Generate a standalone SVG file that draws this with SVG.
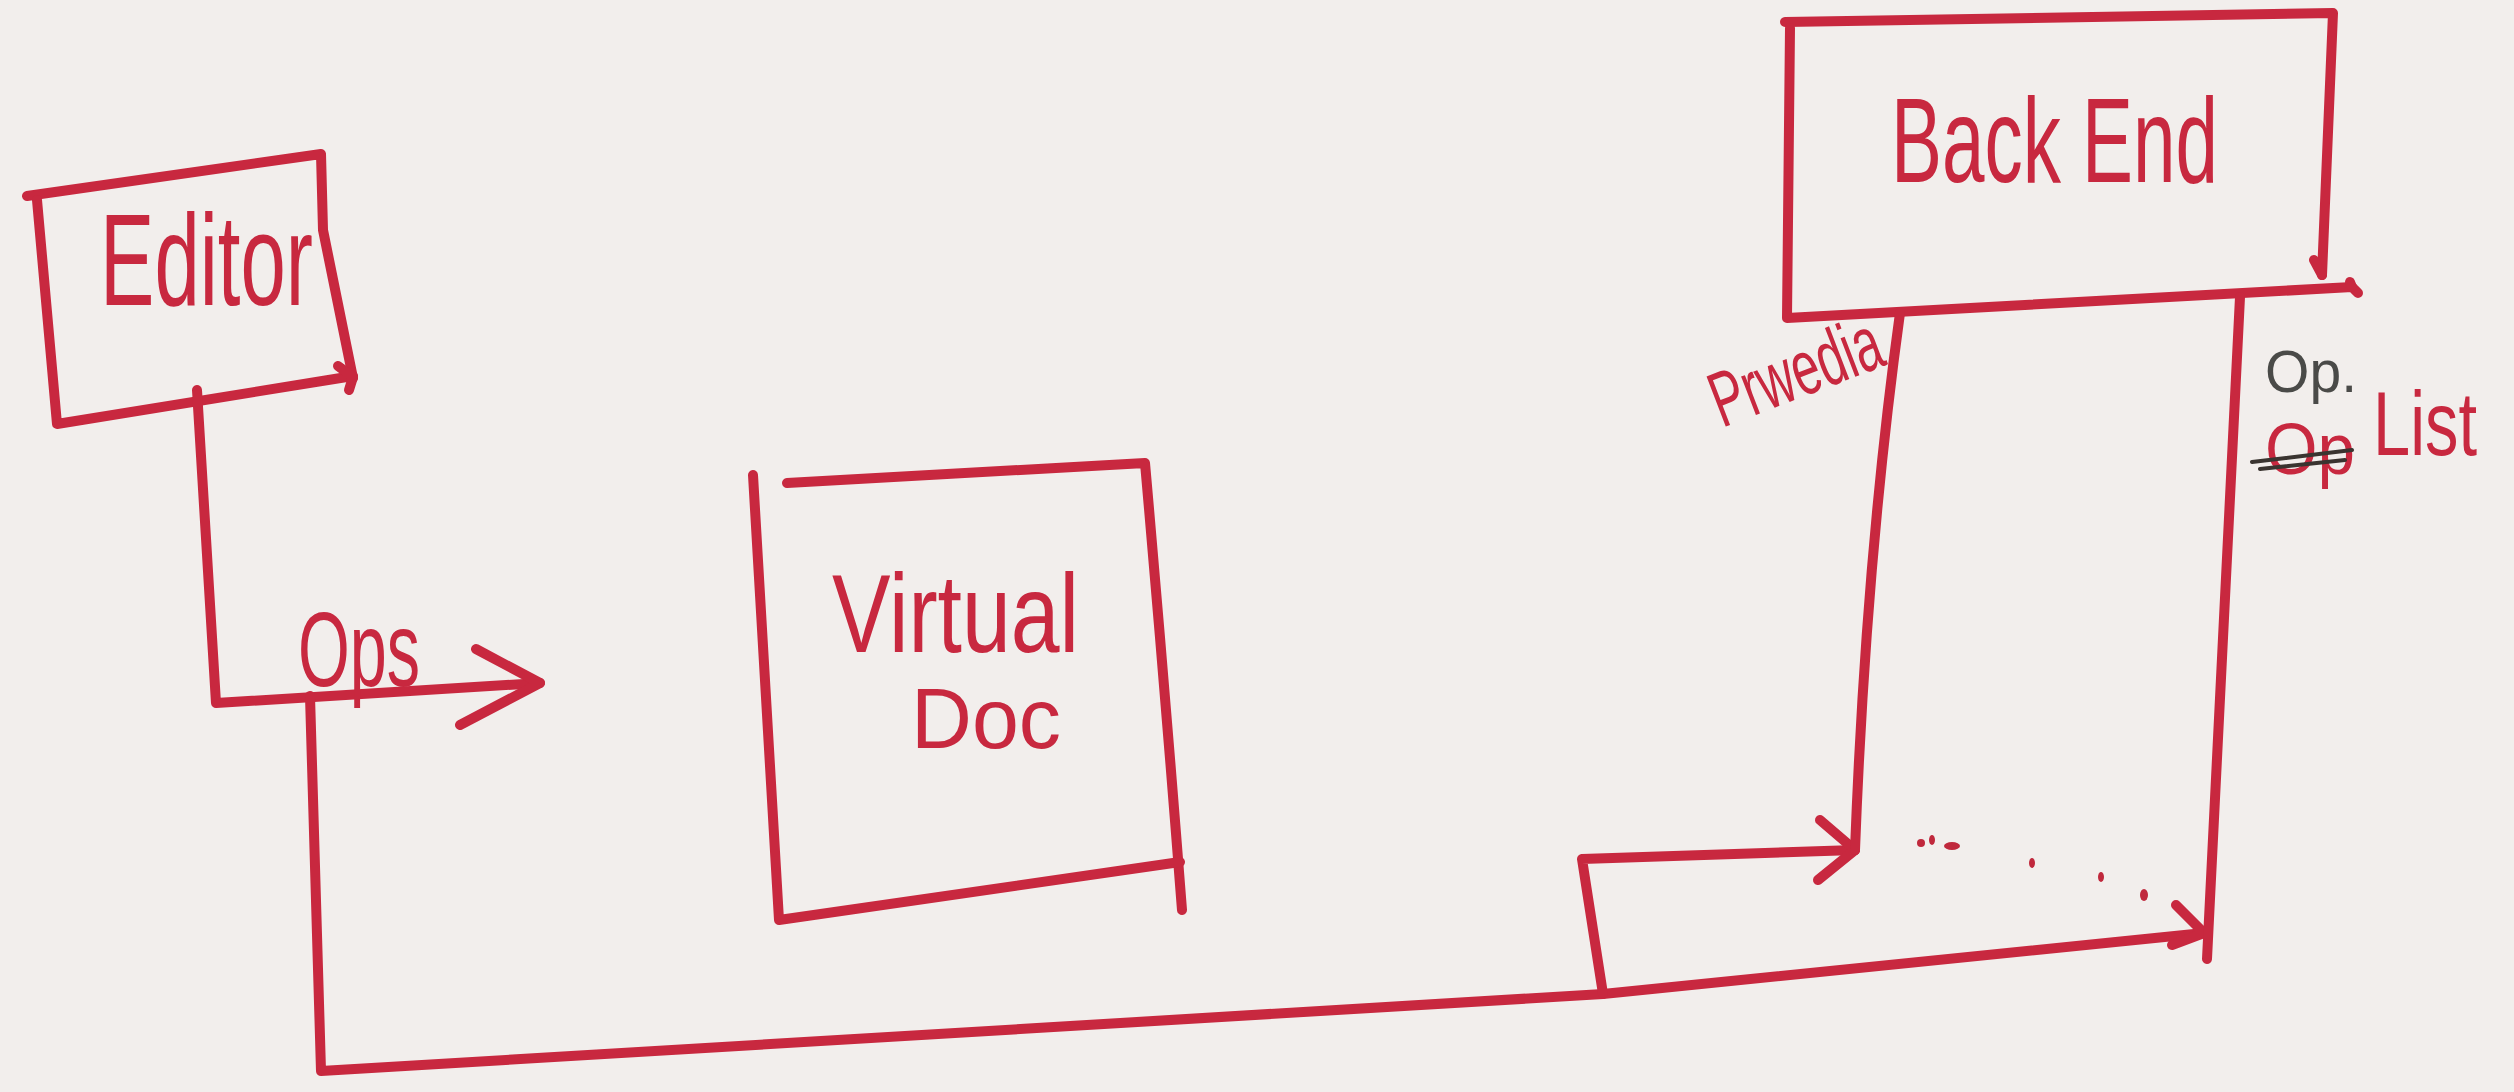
<svg xmlns="http://www.w3.org/2000/svg" width="2514" height="1092" viewBox="0 0 2514 1092">
  <style>
    .ink { fill: none; stroke: #c8283f; stroke-width: 10; stroke-linecap: round; stroke-linejoin: round; }
    .lbl { fill: #c8283f; font-family: "Liberation Sans", "DejaVu Sans", sans-serif; }
    .gray { fill: #4a4a48; font-family: "Liberation Sans", "DejaVu Sans", sans-serif; }
    .dot { fill: #c0283c; }
  </style>
  <rect x="0" y="0" width="2514" height="1092" fill="#f2eeec"/>

  <g id="editor">
    <path class="ink" d="M27,196 L321,154 L323,230 Q338,305 353,378"/>
    <path class="ink" d="M37,200 L57,424 L353,376"/>
    <path class="ink" d="M338,366 L353,377 L349,390"/>
    <text class="lbl" x="100" y="305" font-size="130" textLength="213" lengthAdjust="spacingAndGlyphs">Editor</text>
  </g>

  <g id="virtual-doc">
    <path class="ink" d="M787,483 L1145,463 Q1165,690 1182,910"/>
    <path class="ink" d="M753,475 L779,920 L1180,862"/>
    <text class="lbl" x="832" y="652" font-size="112" textLength="247" lengthAdjust="spacingAndGlyphs">Virtual</text>
    <text class="lbl" x="911" y="748" font-size="86" textLength="150" lengthAdjust="spacingAndGlyphs">Doc</text>
  </g>

  <g id="back-end">
    <path class="ink" d="M1785,22 L2333,13 L2322,275"/>
    <path class="ink" d="M2314,260 L2322,275"/>
    <path class="ink" d="M1790,28 L1787,318 L2352,287 L2358,293"/>
    <path class="ink" d="M2350,282 L2352,287"/>
    <text class="lbl" x="1891" y="182" font-size="120" textLength="327" lengthAdjust="spacingAndGlyphs">Back End</text>
  </g>

  <g id="connectors">
    <!-- Editor -> Ops arrow -->
    <path class="ink" d="M197,390 L216,703 L540,683"/>
    <path class="ink" d="M476,649 L540,683 L460,725"/>
    <text class="lbl" x="298" y="686" font-size="105" textLength="122" lengthAdjust="spacingAndGlyphs">Ops</text>

    <!-- long route to Back End right stem -->
    <path class="ink" d="M310,696 L321,1071 L1603,994 L2204,933"/>
    <path class="ink" d="M2176,905 L2204,933 L2172,945"/>

    <!-- branch to Back End left stem -->
    <path class="ink" d="M1603,994 L1582,859 L1855,850"/>
    <path class="ink" d="M1820,820 L1855,850 L1818,880"/>

    <!-- Back End left stem -->
    <path class="ink" d="M1900,313 Q1866,560 1855,850"/>
    <text class="lbl" x="1722" y="428" font-size="78" textLength="178" lengthAdjust="spacingAndGlyphs" transform="rotate(-21 1722 428)">Prwedia</text>

    <!-- Back End right stem -->
    <path class="ink" d="M2240,297 L2207,959"/>
    <text class="gray" x="2265" y="392" font-size="60" textLength="92" lengthAdjust="spacingAndGlyphs">Op.</text>
    <text class="lbl" x="2265" y="474" font-size="72" textLength="90" lengthAdjust="spacingAndGlyphs">Op</text>
    <path d="M2252,462 L2352,450 M2260,469 L2345,460" fill="none" stroke="#3a3430" stroke-width="4" stroke-linecap="round"/>
    <text class="lbl" x="2373" y="455" font-size="90" textLength="104" lengthAdjust="spacingAndGlyphs">List</text>

    <!-- dotted trail -->
    <ellipse class="dot" cx="1921" cy="843" rx="4" ry="4"/>
    <ellipse class="dot" cx="1932" cy="840" rx="3" ry="5"/>
    <ellipse class="dot" cx="1952" cy="846" rx="8" ry="4"/>
    <ellipse class="dot" cx="2032" cy="863" rx="3" ry="5"/>
    <ellipse class="dot" cx="2101" cy="877" rx="3" ry="5"/>
    <ellipse class="dot" cx="2144" cy="895" rx="4" ry="6"/>
  </g>
</svg>
